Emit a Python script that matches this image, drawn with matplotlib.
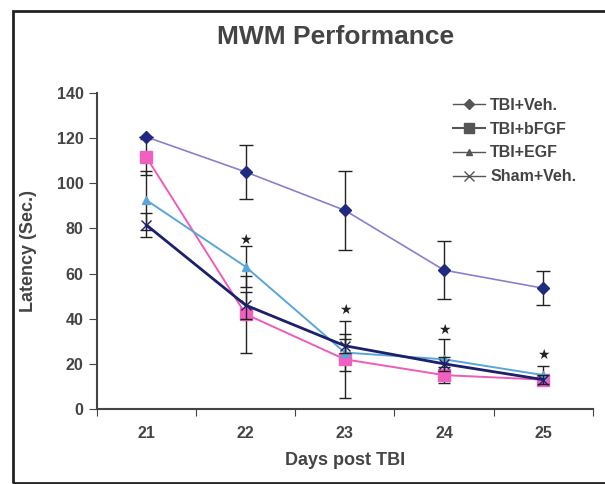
import numpy as np
import matplotlib.pyplot as plt
from matplotlib.lines import Line2D
from matplotlib.patches import Rectangle

plt.rcParams['font.family'] = ['Liberation Sans', 'DejaVu Sans']

days = [21, 22, 23, 24, 25]

veh = [120.5, 105, 88, 61.5, 53.5]
veh_err = [0, 12, 17.5, 13, 7.5]
bfgf = [111.5, 42, 22, 15, 13]
bfgf_err = [8, 17, 17, 3.5, 2]
egf = [92.5, 63, 25, 22, 15]
egf_err = [13, 9, 8, 9, 4]
sham = [81.5, 46, 28, 20, 13]
sham_err = [5.5, 6, 3, 3, 2]

star_y = [None, 75, 44, 35, 24]

gray = '#444444'

fig = plt.figure(figsize=(6.05, 4.84), dpi=100)
ax = fig.add_axes([0.160, 0.155, 0.820, 0.653])

x = np.array(days)

ax.errorbar(x, veh, yerr=veh_err, color='#8880cc', lw=1.2, marker='D', ms=6,
            mfc='#1f2a80', mec='#1f2a80', ecolor='#222222', elinewidth=1,
            capsize=5, zorder=3)
ax.errorbar(x, bfgf, yerr=bfgf_err, color='#ee5cb8', lw=1.4, marker='s', ms=8,
            mfc='#f060c0', mec='#f060c0', ecolor='#222222', elinewidth=1,
            capsize=4, zorder=3)
ax.errorbar(x, egf, yerr=egf_err, color='#5aa6d8', lw=1.4, marker='^', ms=6,
            mfc='#5aa6d8', mec='#5aa6d8', ecolor='#222222', elinewidth=1,
            capsize=4, zorder=3)
ax.errorbar(x, sham, yerr=sham_err, color='#1c1f6b', lw=2.0, marker='x', ms=7,
            mec='#1c1f6b', ecolor='#222222', elinewidth=1, capsize=4, zorder=4)

for d, s in zip(days, star_y):
    if s is not None:
        ax.text(d, s, '\u2605', ha='center', va='center', fontsize=10,
                family='DejaVu Sans', color='#222222')

ax.set_xlim(20.5, 25.5)
ax.set_ylim(0, 140)
ax.set_yticks(np.arange(0, 141, 20))
ax.set_xticks(np.arange(20.5, 25.6, 1))
ax.set_xticklabels([])
ax.set_xticks(days, minor=True)
ax.set_xticklabels([str(d) for d in days], minor=True)
ax.tick_params(axis='x', which='minor', length=0, pad=12)
ax.tick_params(axis='x', which='major', length=5, direction='out', color=gray)
ax.tick_params(axis='y', length=6, direction='out', color=gray)
for lab in ax.get_xticklabels(minor=True) + ax.get_yticklabels():
    lab.set_fontweight('bold')
    lab.set_fontsize(11.5)
    lab.set_color(gray)

ax.spines['top'].set_visible(False)
ax.spines['right'].set_visible(False)
ax.spines['left'].set_color(gray)
ax.spines['bottom'].set_color(gray)
ax.spines['left'].set_linewidth(1.5)
ax.spines['bottom'].set_linewidth(1.5)

ax.set_xlabel('Days post TBI', fontsize=13, fontweight='bold', color=gray, labelpad=8)
ax.set_ylabel('Latency (Sec.)', fontsize=13, fontweight='bold', color=gray, labelpad=14)
fig.text(0.554, 0.923, 'MWM Performance', ha='center', va='center',
         fontsize=19, fontweight='bold', color=gray)

handles = [
    Line2D([], [], color='#555555', lw=1, marker='D', ms=5),
    Line2D([], [], color='#555555', lw=1.5, marker='s', ms=7),
    Line2D([], [], color='#555555', lw=1, marker='^', ms=4),
    Line2D([], [], color='#555555', lw=1, marker='x', ms=7),
]
leg = ax.legend(handles, ['TBI+Veh.', 'TBI+bFGF', 'TBI+EGF', 'Sham+Veh.'],
                loc='upper left', bbox_to_anchor=(0.69, 1.03), frameon=False,
                handlelength=2.0, handletextpad=0.3, labelspacing=0.55,
                prop={'weight': 'bold', 'size': 11.5})
for t in leg.get_texts():
    t.set_color(gray)

fig.patches.append(Rectangle((13 / 605, 0.003), 1.2, 1 - 11 / 484 - 0.003,
                             transform=fig.transFigure, fill=False,
                             edgecolor='#222222', lw=2))

fig.savefig('out.png', dpi=100)
